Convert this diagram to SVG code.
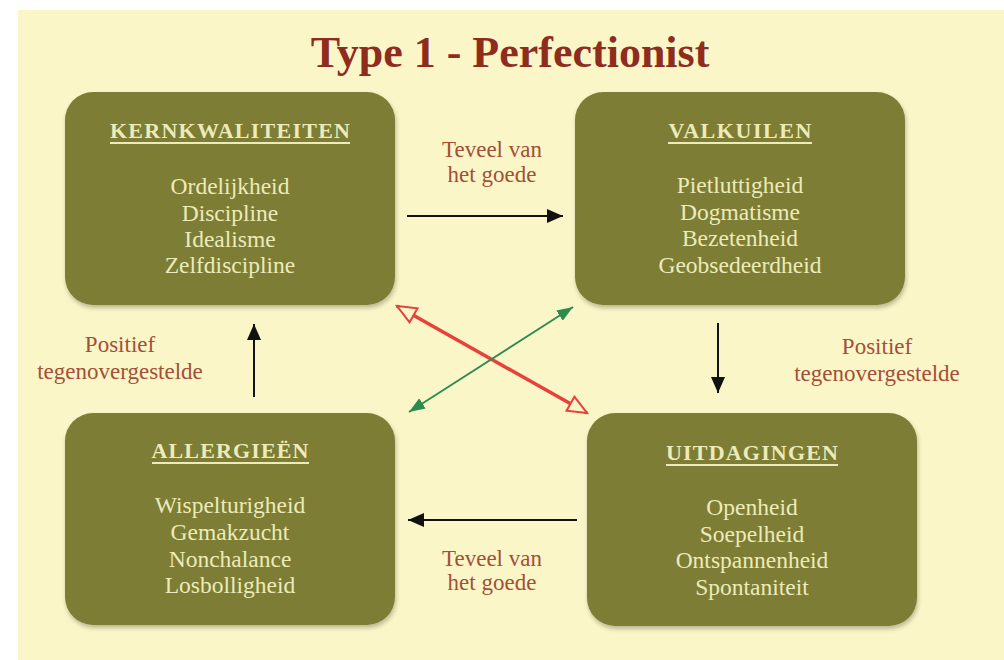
<svg xmlns="http://www.w3.org/2000/svg" width="1004" height="660" viewBox="0 0 1004 660">
<style>
.box{fill:#7d7d35;filter:url(#sh)}
.hd{font-family:"Liberation Serif","Times New Roman",serif;font-weight:bold;font-size:22px;fill:#ecebb9;text-anchor:middle}
.ul{stroke:#ecebb9;stroke-width:2}
.bd{font-family:"Liberation Serif","Times New Roman",serif;font-size:23.5px;fill:#ecebb9;text-anchor:middle}
.lb{font-family:"Liberation Serif","Times New Roman",serif;font-size:23px;fill:#a44f38;text-anchor:middle}
.blk{stroke:#111;stroke-width:2;fill:none;marker-end:url(#ab)}
</style>
<defs>
<filter id="sh" x="-10%" y="-10%" width="120%" height="125%">
<feDropShadow dx="1" dy="3" stdDeviation="2" flood-color="#000" flood-opacity="0.25"/>
</filter>
<marker id="ab" markerUnits="userSpaceOnUse" markerWidth="17" markerHeight="14" refX="16" refY="7" orient="auto">
<path d="M0,0 L16,7 L0,14 z" fill="#111"/>
</marker>
<marker id="ar" markerUnits="userSpaceOnUse" markerWidth="24" markerHeight="20" refX="21" refY="10" orient="auto-start-reverse">
<path d="M2,2 L21,10 L2,18 z" fill="#faf6c7" stroke="#e8403a" stroke-width="2"/>
</marker>
<marker id="ag" markerUnits="userSpaceOnUse" markerWidth="17" markerHeight="14" refX="16" refY="7" orient="auto-start-reverse">
<path d="M0,1 L16,7 L0,13 z" fill="#2e8b4e"/>
</marker>
</defs>
<rect x="0" y="0" width="1004" height="660" fill="#ffffff"/>
<rect x="18" y="10" width="986" height="650" fill="#faf6c7"/>
<text x="510" y="67" font-family="'Liberation Serif','Times New Roman',serif" font-weight="bold" font-size="44" fill="#8e2d1e" text-anchor="middle">Type 1 - Perfectionist</text>

<g id="kernkwaliteiten">
<rect class="box" x="65" y="92" width="330" height="213" rx="28"/>
<text class="hd" x="230" y="138" textLength="240" lengthAdjust="spacing">KERNKWALITEITEN</text>
<line class="ul" x1="110" y1="143" x2="350" y2="143"/>
<text class="bd" x="230" y="194">Ordelijkheid</text>
<text class="bd" x="230" y="221">Discipline</text>
<text class="bd" x="230" y="247">Idealisme</text>
<text class="bd" x="230" y="273">Zelfdiscipline</text>
</g>

<g id="valkuilen">
<rect class="box" x="575" y="92" width="330" height="213" rx="28"/>
<text class="hd" x="740" y="138" textLength="143" lengthAdjust="spacing">VALKUILEN</text>
<line class="ul" x1="668" y1="143" x2="812" y2="143"/>
<text class="bd" x="740" y="193">Pietluttigheid</text>
<text class="bd" x="740" y="220">Dogmatisme</text>
<text class="bd" x="740" y="246">Bezetenheid</text>
<text class="bd" x="740" y="273">Geobsedeerdheid</text>
</g>

<g id="allergieen">
<rect class="box" x="65" y="413" width="330" height="212" rx="28"/>
<text class="hd" x="230" y="458" textLength="157" lengthAdjust="spacing">ALLERGIEËN</text>
<line class="ul" x1="152" y1="463" x2="309" y2="463"/>
<text class="bd" x="230" y="513">Wispelturigheid</text>
<text class="bd" x="230" y="540">Gemakzucht</text>
<text class="bd" x="230" y="567">Nonchalance</text>
<text class="bd" x="230" y="593">Losbolligheid</text>
</g>

<g id="uitdagingen">
<rect class="box" x="587" y="413" width="330" height="213" rx="28"/>
<text class="hd" x="752" y="460" textLength="172" lengthAdjust="spacing">UITDAGINGEN</text>
<line class="ul" x1="666" y1="465" x2="838" y2="465"/>
<text class="bd" x="752" y="515">Openheid</text>
<text class="bd" x="752" y="542">Soepelheid</text>
<text class="bd" x="752" y="568">Ontspannenheid</text>
<text class="bd" x="752" y="595">Spontaniteit</text>
</g>

<g id="connectors">
<line class="blk" x1="407" y1="216" x2="563" y2="216"/>
<line class="blk" x1="718" y1="323" x2="718" y2="393"/>
<line class="blk" x1="577" y1="520" x2="408" y2="520"/>
<line class="blk" x1="254" y1="397" x2="254" y2="324"/>
<line x1="397" y1="306" x2="587" y2="413" stroke="#e8403a" stroke-width="3.5" marker-start="url(#ar)" marker-end="url(#ar)"/>
<line x1="573" y1="307" x2="409" y2="412" stroke="#2e8b4e" stroke-width="1.8" marker-start="url(#ag)" marker-end="url(#ag)"/>
</g>

<g id="labels">
<text class="lb" x="492" y="157">Teveel van</text>
<text class="lb" x="492" y="182">het goede</text>
<text class="lb" x="492" y="566">Teveel van</text>
<text class="lb" x="492" y="590">het goede</text>
<text class="lb" x="120" y="352">Positief</text>
<text class="lb" x="120" y="379">tegenovergestelde</text>
<text class="lb" x="877" y="354">Positief</text>
<text class="lb" x="877" y="381">tegenovergestelde</text>
</g>
</svg>
